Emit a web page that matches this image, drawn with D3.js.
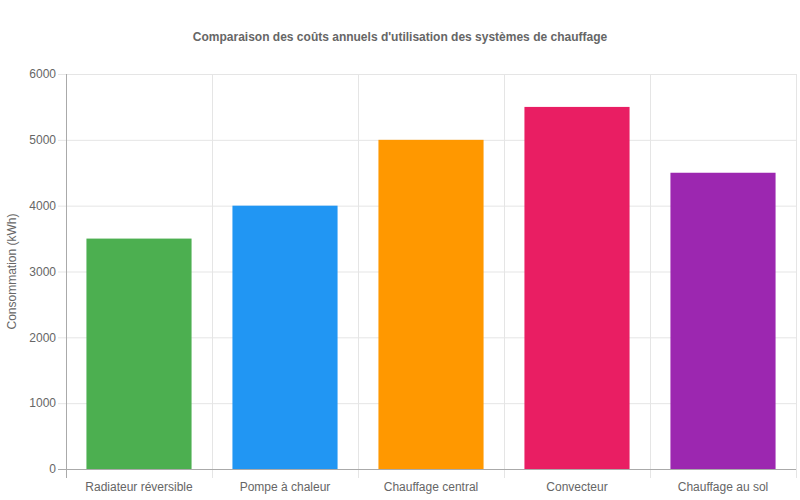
<!DOCTYPE html>
<html>
<head>
<meta charset="utf-8">
<script src="https://cdn.jsdelivr.net/npm/d3@7"></script>
<style>
  body { margin: 0; background: #fff; }
  svg text { font-family: "Liberation Sans", Arial, Helvetica, sans-serif; }
</style>
</head>
<body>
<svg id="chart" width="800" height="500"></svg>
<script>
// chart data
var categories = ["Radiateur réversible", "Pompe à chaleur", "Chauffage central", "Convecteur", "Chauffage au sol"];
var values = [3500, 4000, 5000, 5500, 4500];
var colors = ["#4CAF50", "#2196F3", "#FF9800", "#E91E63", "#9C27B0"];
var yTicks = [0, 1000, 2000, 3000, 4000, 5000, 6000];
var title = "Comparaison des coûts annuels d'utilisation des systèmes de chauffage";
var yLabel = "Consommation (kWh)";

var svg = d3.select('#chart');
var margin = { top: 74, right: 4, bottom: 31, left: 66 };
var width = 800 - margin.left - margin.right;
var height = 500 - margin.top - margin.bottom;

var x = d3.scaleBand().domain(categories).range([0, width]);
var y = d3.scaleLinear().domain([0, 6000]).range([height, 0]);

var g = svg.append('g')
  .attr('transform', 'translate(' + margin.left + ',' + margin.top + ')');

// title
svg.append('text')
  .attr('x', 400)
  .attr('y', 41)
  .attr('text-anchor', 'middle')
  .style('font-size', '12px')
  .style('font-weight', 'bold')
  .style('fill', '#666')
  .text(title);

// horizontal grid + tick marks
g.selectAll('.hgrid')
  .data(yTicks)
  .enter().append('line')
  .attr('class', 'hgrid')
  .attr('x1', -8)
  .attr('x2', width)
  .attr('y1', d => y(d) + 0.5)
  .attr('y2', d => y(d) + 0.5)
  .attr('stroke', '#e5e5e5');

// vertical grid lines (category boundaries)
var bounds = categories.map(c => x(c)).concat([width]);
g.selectAll('.vgrid')
  .data(bounds)
  .enter().append('line')
  .attr('class', 'vgrid')
  .attr('x1', d => Math.round(d) + 0.5)
  .attr('x2', d => Math.round(d) + 0.5)
  .attr('y1', 0)
  .attr('y2', height + 9)
  .attr('stroke', '#e5e5e5');

// y tick labels
g.selectAll('.ylab')
  .data(yTicks)
  .enter().append('text')
  .attr('class', 'ylab')
  .attr('x', -10)
  .attr('y', d => y(d))
  .attr('dy', '0.35em')
  .attr('text-anchor', 'end')
  .style('font-size', '12px')
  .style('fill', '#666')
  .text(d => d);

// bars
var inner = x.bandwidth() * 0.72;
g.selectAll('.bar')
  .data(values)
  .enter().append('rect')
  .attr('class', 'bar')
  .attr('x', (d, i) => x(categories[i]) + (x.bandwidth() - inner) / 2)
  .attr('y', d => y(d))
  .attr('width', inner)
  .attr('height', d => height - y(d))
  .attr('fill', (d, i) => colors[i]);

// axis lines
g.append('line')
  .attr('x1', 0.5).attr('x2', 0.5)
  .attr('y1', 0).attr('y2', height + 9)
  .attr('stroke', '#aaa');
g.append('line')
  .attr('x1', -8).attr('x2', width)
  .attr('y1', height + 0.5).attr('y2', height + 0.5)
  .attr('stroke', '#aaa');

// x labels
g.selectAll('.xlab')
  .data(categories)
  .enter().append('text')
  .attr('class', 'xlab')
  .attr('x', d => x(d) + x.bandwidth() / 2)
  .attr('y', height + 22)
  .attr('text-anchor', 'middle')
  .style('font-size', '12px')
  .style('fill', '#666')
  .text(d => d);

// y axis title
svg.append('text')
  .attr('transform', 'translate(16,' + (margin.top + height / 2) + ') rotate(-90)')
  .attr('text-anchor', 'middle')
  .style('font-size', '12px')
  .style('fill', '#666')
  .text(yLabel);
</script>
</body>
</html>
